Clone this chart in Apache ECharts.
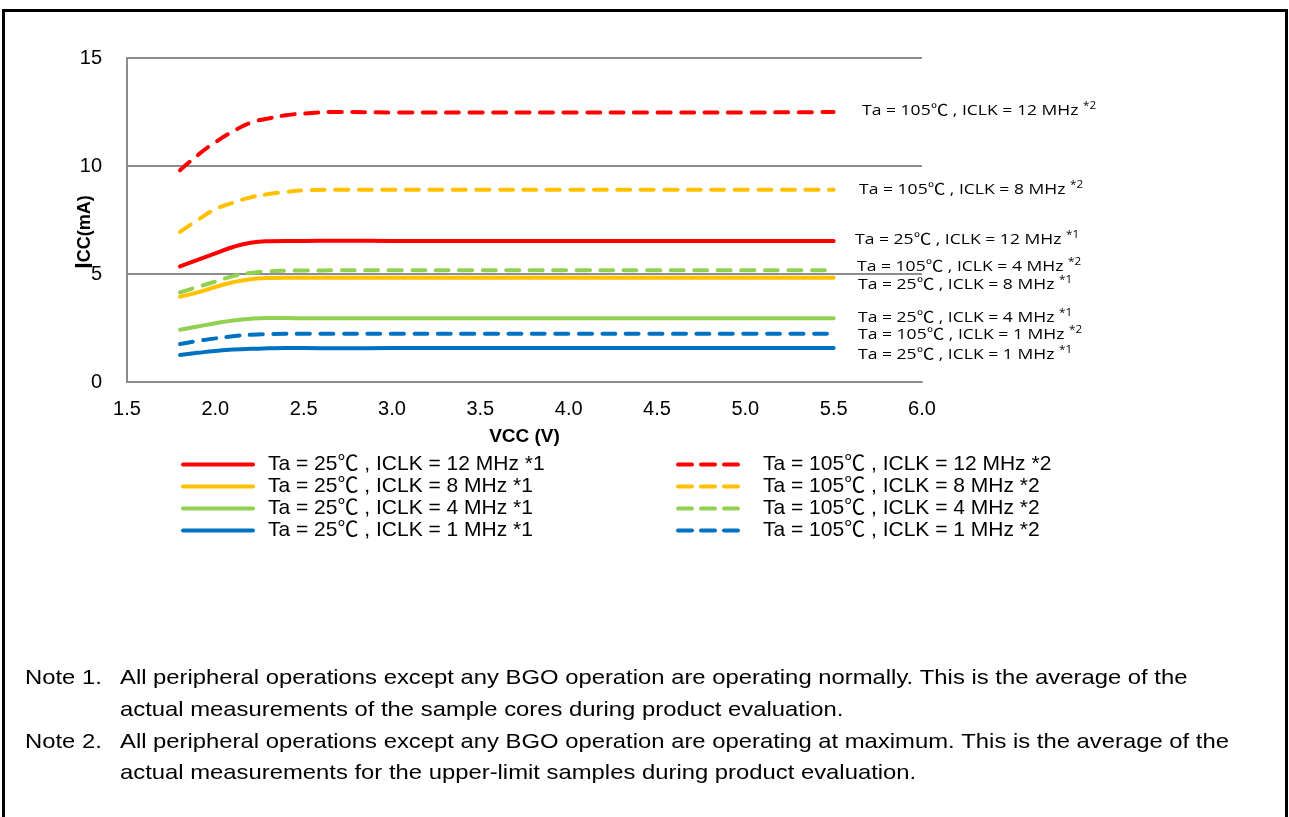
<!DOCTYPE html>
<html><head><meta charset="utf-8">
<script src="https://cdn.jsdelivr.net/npm/echarts@6/dist/echarts.min.js"></script>
<style>html,body{margin:0;padding:0;background:#fff}#c{width:1289px;height:817px}</style>
</head><body><div id="c"></div>
<script>
// ---- data ----
const vcc = [1.8, 1.9, 2.0, 2.1, 2.2, 2.3, 2.4, 2.5, 2.7, 3.0, 3.5, 4.0, 4.5, 5.0, 5.5];
const icc25_12  = [5.35, 5.65, 5.95, 6.25, 6.45, 6.52, 6.53, 6.53, 6.54, 6.53, 6.53, 6.53, 6.53, 6.53, 6.53];
const icc25_8   = [3.95, 4.15, 4.40, 4.62, 4.76, 4.81, 4.83, 4.83, 4.83, 4.83, 4.83, 4.83, 4.83, 4.83, 4.83];
const icc25_4   = [2.42, 2.57, 2.72, 2.85, 2.93, 2.96, 2.96, 2.95, 2.95, 2.95, 2.95, 2.95, 2.95, 2.95, 2.95];
const icc25_1   = [1.25, 1.35, 1.44, 1.50, 1.54, 1.56, 1.57, 1.57, 1.56, 1.57, 1.57, 1.57, 1.57, 1.57, 1.57];
const icc105_12 = [9.80, 10.5, 11.1, 11.6, 12.0, 12.2, 12.35, 12.43, 12.5, 12.48, 12.48, 12.48, 12.48, 12.48, 12.5];
const icc105_8  = [6.95, 7.50, 8.00, 8.30, 8.55, 8.70, 8.80, 8.87, 8.90, 8.90, 8.90, 8.90, 8.90, 8.90, 8.90];
const icc105_4  = [4.15, 4.40, 4.65, 4.90, 5.05, 5.12, 5.15, 5.16, 5.17, 5.17, 5.17, 5.17, 5.17, 5.17, 5.17];
const icc105_1  = [1.76, 1.90, 2.02, 2.12, 2.19, 2.22, 2.23, 2.23, 2.23, 2.23, 2.23, 2.23, 2.23, 2.23, 2.23];

const names25  = ['Ta = 25℃ , ICLK = 12 MHz *1', 'Ta = 25℃ , ICLK = 8 MHz *1', 'Ta = 25℃ , ICLK = 4 MHz *1', 'Ta = 25℃ , ICLK = 1 MHz *1'];
const names105 = ['Ta = 105℃ , ICLK = 12 MHz *2', 'Ta = 105℃ , ICLK = 8 MHz *2', 'Ta = 105℃ , ICLK = 4 MHz *2', 'Ta = 105℃ , ICLK = 1 MHz *2'];

// right-side annotations: [temp, clock, note]
const sideLabels = [
  ['105', '12', '2'],
  ['105', '8', '2'],
  ['25', '12', '1'],
  ['105', '4', '2'],
  ['25', '8', '1'],
  ['25', '4', '1'],
  ['105', '1', '2'],
  ['25', '1', '1']
];
const notes = [
  ['Note 1.', 'All peripheral operations except any BGO operation are operating normally. This is the average of the', 'actual measurements of the sample cores during product evaluation.'],
  ['Note 2.', 'All peripheral operations except any BGO operation are operating at maximum. This is the average of the', 'actual measurements for the upper-limit samples during product evaluation.']
];

// ---- style ----
const colors = ['#FF0000', '#FFC000', '#92D050', '#0070C0'];
const FONT = '"Liberation Sans", Arial, "Noto Sans CJK JP", sans-serif';
const LFONT = '"Open Sans", "Noto Sans CJK JP", sans-serif';
const dashPattern = [13, 10.5];

const solidData = [icc25_12, icc25_8, icc25_4, icc25_1];
const dashData  = [icc105_12, icc105_8, icc105_4, icc105_1];
const pair = arr => vcc.map((x, i) => [x, arr[i]]);

const series = [];
solidData.forEach((d, i) => series.push({
  name: names25[i], type: 'line', data: pair(d), smooth: 0.5,
  symbol: 'none', lineStyle: {color: colors[i], width: 4, cap: 'round'}, itemStyle: {color: colors[i]}
}));
dashData.forEach((d, i) => series.push({
  name: names105[i], type: 'line', data: pair(d), smooth: 0.5,
  symbol: 'none', lineStyle: {color: colors[i], width: 4, type: dashPattern, cap: 'round'}, itemStyle: {color: colors[i]}
}));

const legendCommon = {
  orient: 'vertical', itemWidth: 70, itemHeight: 14, itemGap: 1, selectedMode: false, padding: 0,
  itemStyle: {opacity: 0},
  lineStyle: {width: 4, cap: 'round'},
  textStyle: {fontSize: 21, lineHeight: 21, fontFamily: FONT, color: '#000', padding: [0, 0, 0, 10]}
};

const sideY = [111, 190, 240, 267, 285, 318, 335, 355];
const sideX = [862, 859, 855, 857, 858, 858, 858, 858];
const graphics = [];
graphics.push({type: 'polyline', shape: {points: [[3.5, 817], [3.5, 10.5], [1286.5, 10.5], [1286.5, 817]]}, style: {stroke: '#000', lineWidth: 3, fill: null}});
sideLabels.forEach((s, i) => {
  graphics.push({type: 'text', x: sideX[i], y: sideY[i], scaleX: 1.17, style: {
    text: '{t|Ta = ' + s[0] + '}{c|℃}{t| , ICLK = ' + s[1] + ' MHz }{s|*' + s[2] + '}',
    verticalAlign: 'middle', fill: '#000',
    rich: {
      t: {fontSize: 15, fontFamily: LFONT, fill: '#000'},
      c: {fontSize: 15, fontFamily: '"Noto Sans CJK JP", sans-serif', fill: '#000', padding: [0, 0, 3, 0]},
      s: {fontSize: 10, fontFamily: LFONT, fill: '#000', padding: [0, 0, 9, 0]}
    }
  }});
});
const noteY = [[678, 710], [742, 773]];
const noteFont = '21px ' + FONT;
const noteScale = 1.135;
notes.forEach((n, i) => {
  graphics.push({type: 'text', x: 25, y: noteY[i][0], scaleX: noteScale, style: {text: n[0], font: noteFont, fill: '#000', verticalAlign: 'middle'}});
  graphics.push({type: 'text', x: 120, y: noteY[i][0], scaleX: noteScale, style: {text: n[1], font: noteFont, fill: '#000', verticalAlign: 'middle'}});
  graphics.push({type: 'text', x: 120, y: noteY[i][1], scaleX: noteScale, style: {text: n[2], font: noteFont, fill: '#000', verticalAlign: 'middle'}});
});

const option = {
  animation: false,
  backgroundColor: '#fff',
  grid: {left: 127, right: 367, top: 58, bottom: 435, containLabel: false},
  xAxis: {
    type: 'value', min: 1.5, max: 6.0, interval: 0.5,
    name: 'VCC (V)', nameLocation: 'middle', nameGap: 45, nameMoveOverlap: false,
    nameTextStyle: {fontSize: 19, fontWeight: 'bold', fontFamily: FONT, color: '#000'},
    axisLine: {show: true, lineStyle: {color: '#8c8c8c', width: 2}},
    axisTick: {show: false},
    axisLabel: {fontSize: 20, fontFamily: FONT, color: '#000', margin: 17, formatter: v => v.toFixed(1)},
    splitLine: {show: false}
  },
  yAxis: {
    type: 'value', min: 0, max: 15, interval: 5,
    name: '{i|I}{c|CC}{m|(mA)}', nameLocation: 'middle', nameGap: 30, nameMoveOverlap: false,
    nameTextStyle: {color: '#000', padding: [0, 24, 0, 0], rich: {
      i: {fontSize: 23, fontWeight: 'bold', fontFamily: FONT, color: '#000'},
      c: {fontSize: 18, fontWeight: 'bold', fontFamily: FONT, color: '#000'},
      m: {fontSize: 18, fontWeight: 'bold', fontFamily: FONT, color: '#000'}
    }},
    axisLine: {show: true, lineStyle: {color: '#8c8c8c', width: 2}},
    axisTick: {show: false},
    axisLabel: {fontSize: 20, fontFamily: FONT, color: '#000', margin: 25},
    splitLine: {show: true, lineStyle: {color: '#8c8c8c', width: 2}}
  },
  legend: [
    Object.assign({}, legendCommon, {left: 181, top: 454, data: names25.map(n => ({name: n}))}),
    Object.assign({}, legendCommon, {left: 676, top: 454, itemWidth: 66, textStyle: Object.assign({}, legendCommon.textStyle, {padding: [0, 0, 0, 14]}),
      data: names105.map(n => ({name: n, lineStyle: {type: [14, 9], width: 4, cap: 'round'}}))})
  ],
  series: series,
  graphic: graphics
};
const chart = echarts.init(document.getElementById('c'));
chart.setOption(option);
</script></body></html>
